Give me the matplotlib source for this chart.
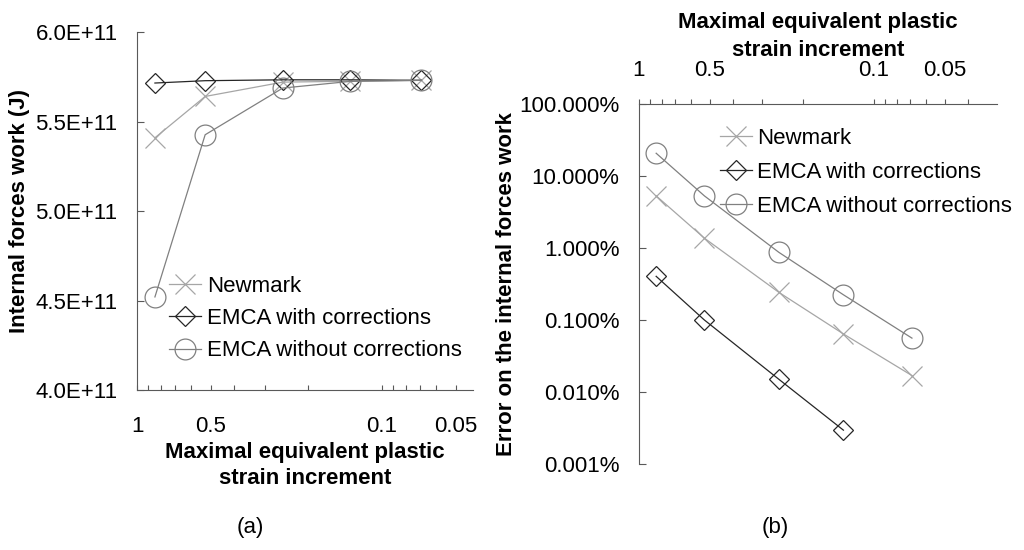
import matplotlib
matplotlib.use("Agg")
import matplotlib.pyplot as plt
from matplotlib.ticker import FixedLocator, NullLocator, FuncFormatter

plt.rcParams['font.family'] = ['Liberation Sans', 'DejaVu Sans']
plt.rcParams['font.size'] = 16

# strain increment values (x), shared by both panels
strain = [0.845, 0.527, 0.254, 0.135, 0.069]
strain_corr = [0.845, 0.527, 0.254, 0.135]

# (a) internal forces work (J)
work_newmark = [5.409e11, 5.64e11, 5.72e11, 5.725e11, 5.73e11]
work_corr = [5.715e11, 5.728e11, 5.733e11, 5.733e11, 5.73e11]
work_nocorr = [4.52e11, 5.426e11, 5.687e11, 5.724e11, 5.73e11]

# (b) error on internal forces work (%)
err_newmark = [5.3, 1.37, 0.242, 0.064, 0.0169]
err_corr = [0.404, 0.1, 0.015, 0.00295]
err_nocorr = [20.7, 5.3, 0.87, 0.224, 0.056]

labels = ["Newmark", "EMCA with corrections", "EMCA without corrections"]
x_ticks = [1, 0.9, 0.8, 0.7, 0.6, 0.5, 0.4, 0.3, 0.2, 0.1, 0.09, 0.08, 0.07, 0.06, 0.05, 0.04]
x_labeled = {1: "1", 0.5: "0.5", 0.1: "0.1", 0.05: "0.05"}

c_new = "#a6a6a6"
c_corr = "#262626"
c_nocorr = "#808080"
spine_c = "#595959"

fig = plt.figure(figsize=(10.24, 5.5), dpi=100)


def draw_series(ax, xa, ya, xb, yb, xc, yc):
    ax.plot(xa, ya, color=c_new, lw=0.9, marker="x", ms=14, mew=0.9, label=labels[0])
    ax.plot(xb, yb, color=c_corr, lw=0.9, marker="D", ms=10, mew=0.9, mfc="none", label=labels[1])
    ax.plot(xc, yc, color=c_nocorr, lw=0.9, marker="o", ms=15, mew=0.9, mfc="none", label=labels[2])


def setup_x(ax, xmax):
    ax.set_xscale("log")
    ax.set_xlim(1, xmax)
    ticks = [t for t in x_ticks if t >= xmax]
    ax.xaxis.set_major_locator(FixedLocator(ticks))
    ax.xaxis.set_minor_locator(NullLocator())
    ax.set_xticklabels([x_labeled.get(t, "") for t in ticks])


# ---- (a)
ax1 = fig.add_axes([0.1338, 0.2909, 0.3281, 0.6509])
draw_series(ax1, strain, work_newmark, strain, work_corr, strain, work_nocorr)
setup_x(ax1, 0.0425)
ax1.set_ylim(4.0e11, 6.0e11)
ax1.set_yticks([4.0e11, 4.5e11, 5.0e11, 5.5e11, 6.0e11])
ax1.yaxis.set_major_formatter(FuncFormatter(lambda v, p: "%.1fE+11" % (v / 1e11)))
ax1.tick_params(axis="y", direction="in", length=5, pad=14, color=spine_c)
ax1.tick_params(axis="x", direction="in", length=3.5, pad=19, color=spine_c)
for s in ["top", "right"]:
    ax1.spines[s].set_visible(False)
for s in ["left", "bottom"]:
    ax1.spines[s].set_color(spine_c)
ax1.set_ylabel("Internal forces work (J)", fontweight="bold", labelpad=4)
ax1.set_xlabel("Maximal equivalent plastic\nstrain increment", fontweight="bold",
               labelpad=3, linespacing=1.35)
ax1.legend(loc="upper left", bbox_to_anchor=(0.095, 0.318), frameon=False, borderpad=0,
           handlelength=1.45, handletextpad=0.25, labelspacing=0.5, borderaxespad=0)

# ---- (b)
ax2 = fig.add_axes([0.624, 0.1564, 0.3496, 0.6545])
draw_series(ax2, strain, err_newmark, strain_corr, err_corr, strain, err_nocorr)
setup_x(ax2, 0.030)
ax2.set_yscale("log")
ax2.set_ylim(0.001, 100)
ax2.yaxis.set_major_locator(FixedLocator([0.001, 0.01, 0.1, 1, 10, 100]))
ax2.yaxis.set_minor_locator(NullLocator())
ax2.yaxis.set_major_formatter(FuncFormatter(lambda v, p: "%.3f%%" % v))
ax2.xaxis.tick_top()
ax2.xaxis.set_label_position("top")
ax2.tick_params(axis="y", direction="in", length=5, pad=14, color=spine_c)
ax2.tick_params(axis="x", direction="out", length=3.5, pad=13, color=spine_c)
for s in ["bottom", "right"]:
    ax2.spines[s].set_visible(False)
for s in ["left", "top"]:
    ax2.spines[s].set_color(spine_c)
ax2.set_ylabel("Error on the internal forces work", fontweight="bold", labelpad=2)
ax2.set_xlabel("Maximal equivalent plastic\nstrain increment", fontweight="bold",
               labelpad=3, linespacing=1.45)
ax2.legend(loc="upper left", bbox_to_anchor=(0.225, 0.933), frameon=False, borderpad=0,
           handlelength=1.45, handletextpad=0.25, labelspacing=0.58, borderaxespad=0)

fig.text(250 / 1024, 1 - 527 / 550, "(a)", ha="center", va="center", fontsize=16)
fig.text(775 / 1024, 1 - 527 / 550, "(b)", ha="center", va="center", fontsize=16)

fig.savefig("out.png", dpi=100)
